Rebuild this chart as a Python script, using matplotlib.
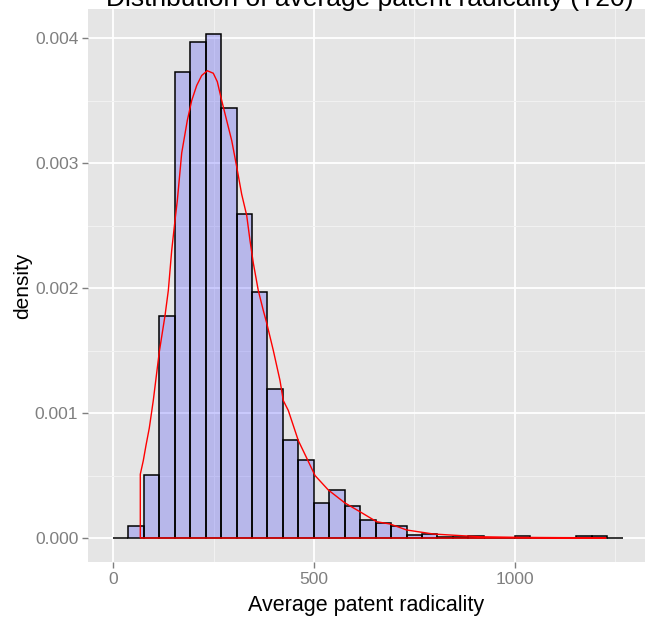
import matplotlib
matplotlib.use('Agg')
import matplotlib.pyplot as plt
import numpy as np

plt.rcParams['font.family'] = ['Liberation Sans', 'DejaVu Sans']

# 直方图：第一个分箱的左边界、分箱宽度、每个分箱的密度
bin_start = 0.0
bin_width = 38.43
bin_density = [0.0, 0.0001, 0.000505, 0.00178, 0.003726, 0.003966, 0.00403,
               0.00344, 0.00259, 0.001966, 0.00119, 0.000784, 0.000621,
               0.000283, 0.000384, 0.000259, 0.000141, 0.000117, 0.0000984,
               0.000026, 0.00003, 0.00001, 0.00001, 0.00002, 0.0, 0.0,
               0.00002, 0.0, 0.0, 0.0, 0.00002, 0.00002, 0.0]

# 核密度曲线上的点
kde_x = [67.9, 67.9, 75.4, 82.0, 90.3, 100.2, 115.2, 129.4, 137.6, 146.0,
         154.2, 160.0, 170.9, 184.8, 195.8, 208.2, 220.6, 234.6, 249.5,
         259.5, 270.4, 282.8, 295.3, 307.7, 320.1, 332.6, 340.8, 349.0,
         361.4, 373.9, 382.3, 398.8, 415.4, 423.6, 436.1, 460.9, 481.8,
         502.5, 535.6, 577.1, 614.4, 656.0, 689.0, 730.6, 796.8, 838.3,
         913.0, 1012.0, 1112.0, 1226.4, 1226.4]
kde_y = [0.0, 0.00051, 0.00062, 0.00074, 0.00088, 0.0011, 0.00149, 0.00178,
         0.00198, 0.0023, 0.00254, 0.0027, 0.00308, 0.00334, 0.0035, 0.00362,
         0.0037, 0.003738, 0.003718, 0.00365, 0.0035, 0.00334, 0.00318,
         0.00297, 0.00275, 0.00258, 0.00238, 0.0022, 0.00198, 0.00182,
         0.00172, 0.0015, 0.00126, 0.0011, 0.00102, 0.00078, 0.00064, 0.0005,
         0.000384, 0.00028, 0.00021, 0.00013, 0.000112, 0.000064, 0.000032,
         0.000024, 0.00001, 0.000005, 0.000003, 0.000002, 0.0]

x_ticks = [0, 500, 1000]
y_ticks = [0.000, 0.001, 0.002, 0.003, 0.004]


def draw_hist(ax):
    lefts = bin_start + bin_width * np.arange(len(bin_density))
    ax.bar(lefts, bin_density, width=bin_width, align='edge',
           color='blue', alpha=0.2, edgecolor='none', zorder=2)
    ax.bar(lefts, bin_density, width=bin_width, align='edge',
           facecolor='none', edgecolor='black', linewidth=1.1, zorder=3)
    # 密度曲线画成闭合多边形（带底边）
    ax.fill(kde_x, kde_y, facecolor='none', edgecolor='red',
            linewidth=1.0, zorder=4)


if __name__ == "__main__":
    fig = plt.figure(figsize=(6.48, 6.22), dpi=100)
    ax = fig.add_axes([88 / 648, 60 / 622, 557 / 648, 553 / 622])
    ax.set_facecolor('#E5E5E5')

    draw_hist(ax)

    ax.set_xlim(-62.2, 1323.4)
    ax.set_ylim(-0.000192, 0.004232)
    ax.set_xticks(x_ticks)
    ax.set_xticklabels([str(t) for t in x_ticks])
    ax.set_xticks([250, 750, 1250], minor=True)
    ax.set_yticks(y_ticks)
    ax.set_yticklabels(['%.3f' % t for t in y_ticks])
    ax.set_yticks([0.0005, 0.0015, 0.0025, 0.0035], minor=True)

    ax.grid(which='major', color='white', linewidth=1.3, zorder=0)
    ax.grid(which='minor', color='#F2F2F2', linewidth=0.7, zorder=0)
    ax.set_axisbelow(True)
    for s in ax.spines.values():
        s.set_visible(False)

    ax.tick_params(which='major', length=4, width=1, color='#7F7F7F',
                   labelcolor='#7F7F7F', labelsize=12.5, pad=3)
    ax.tick_params(which='minor', length=0)

    ax.set_xlabel('Average patent radicality', fontsize=15.5, labelpad=6)
    ax.set_ylabel('density', fontsize=15, labelpad=2)

    # 标题（上半部分超出画布）
    fig.text(0.571, 1 - 6 / 622, 'Distribution of average patent radicality (T20)',
             ha='center', va='baseline', fontsize=19)

    fig.savefig('out.png', dpi=100)
